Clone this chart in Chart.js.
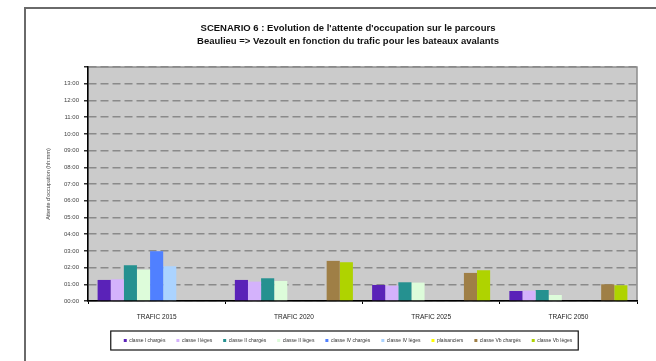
<!DOCTYPE html>
<html>
<head>
<meta charset="utf-8">
<script src="https://cdn.jsdelivr.net/npm/chart.js@4/dist/chart.umd.min.js"></script>
<style>
  html, body { margin: 0; padding: 0; background: #fff; }
  #wrap { width: 656px; height: 361px; }
</style>
</head>
<body>
<div id="wrap"><canvas id="chart" width="656" height="361"></canvas></div>
<script>
// === Data (hours) ===
const categories = ["TRAFIC 2015", "TRAFIC 2020", "TRAFIC 2025", "TRAFIC 2050"];
const yTicks = [0, 1, 2, 3, 4, 5, 6, 7, 8, 9, 10, 11, 12, 13];

const classeICharges = [1.26, 1.26, 0.96, 0.6];
const classeILeges = [1.3, 1.16, 0.92, 0.62];
const classeIICharges = [2.14, 1.36, 1.12, 0.66];
const classeIILeges = [1.88, 1.2, 1.1, 0.36];
const classeIVCharges = [2.98, null, null, null];
const classeIVLeges = [2.08, null, null, null];
const plaisanciers = [null, null, null, null];
const classeVbCharges = [null, 2.4, 1.68, 1.0];
const classeVbLeges = [null, 2.32, 1.84, 0.94];

const seriesNames = [
  "classe I chargés", "classe I lèges", "classe II chargés", "classe II lèges",
  "classe IV chargés", "classe IV lèges", "plaisanciers", "classe Vb chargés", "classe Vb lèges",
];
const seriesValues = [
  classeICharges, classeILeges, classeIICharges, classeIILeges,
  classeIVCharges, classeIVLeges, plaisanciers, classeVbCharges, classeVbLeges,
];
const seriesColors = [
  "#5a22b8", "#d4b2fc", "#259190", "#ddfcda",
  "#5080ff", "#abd3ff", "#ffff00", "#9f7f46", "#afd300",
];

const FONT = "'Liberation Sans', Arial, sans-serif";

// === Frame, plot background, legend box ===
const decor = {
  id: "decor",
  beforeDraw(chart) {
    const { ctx, chartArea: a } = chart;
    ctx.save();
    ctx.fillStyle = "#fff";
    ctx.fillRect(0, 0, chart.width, chart.height);
    ctx.strokeStyle = "#6a6a6a";
    ctx.lineWidth = 2;
    ctx.strokeRect(25, 8, 800, 500);
    ctx.fillStyle = "#cbcbcb";
    ctx.fillRect(a.left, a.top, a.right - a.left, a.bottom - a.top);
    ctx.strokeStyle = "#8c8c8c";
    ctx.lineWidth = 1.5;
    ctx.strokeRect(a.left, a.top, a.right - a.left, a.bottom - a.top);
    ctx.restore();
  },
  afterDraw(chart) {
    const boxes = chart.legend.legendHitBoxes;
    if (!boxes || !boxes.length) return;
    const { ctx } = chart;
    const x0 = Math.min(...boxes.map((b) => b.left)) - 13;
    const x1 = Math.max(...boxes.map((b) => b.left + b.width)) + 6;
    const y0 = Math.min(...boxes.map((b) => b.top)) - 7;
    const y1 = Math.max(...boxes.map((b) => b.top + b.height)) + 7;
    ctx.save();
    ctx.strokeStyle = "#111";
    ctx.lineWidth = 1.2;
    ctx.strokeRect(x0, y0, x1 - x0, y1 - y0);
    ctx.restore();
  },
};

new Chart(document.getElementById("chart"), {
  type: "bar",
  data: {
    labels: categories,
    datasets: seriesNames.map((name, i) => ({
      label: name,
      data: seriesValues[i],
      backgroundColor: seriesColors[i],
      borderWidth: 0,
      categoryPercentage: 0.86,
      barPercentage: 1,
    })),
  },
  options: {
    responsive: false,
    animation: false,
    layout: { padding: { left: 59, right: 19, top: 8, bottom: 8 } },
    plugins: {
      title: {
        display: true,
        text: [
          "SCENARIO 6 : Evolution de l'attente d'occupation sur le parcours",
          "Beaulieu => Vezoult en fonction du trafic pour les bateaux avalants",
        ],
        color: "#111",
        font: { family: FONT, size: 9.5, weight: "bold", lineHeight: 1.37 },
        padding: { top: 13.5, bottom: 19.5 },
      },
      legend: {
        position: "bottom",
        labels: {
          color: "#333",
          font: { family: FONT, size: 5 },
          boxWidth: 3,
          boxHeight: 3,
          padding: 11,
        },
      },
      tooltip: { enabled: false },
    },
    scales: {
      x: {
        grid: {
          display: true,
          drawOnChartArea: false,
          drawTicks: true,
          tickLength: 3,
          tickColor: "#000",
          offset: true,
        },
        border: { display: true, color: "#000", width: 1.5 },
        ticks: { color: "#222", font: { family: FONT, size: 6.5 }, padding: 9 },
        afterFit: (scale) => { scale.height = 26; },
      },
      y: {
        min: 0,
        max: 14,
        afterBuildTicks: (scale) => {
          scale.ticks = yTicks.concat([14]).map((v) => ({ value: v }));
        },
        ticks: {
          color: "#444",
          font: { family: FONT, size: 6 },
          padding: 5,
          callback: (v) => (v >= 14 ? "" : String(v).padStart(2, "0") + ":00"),
        },
        grid: {
          color: "#8a8a8a",
          lineWidth: 1.5,
          tickBorderDash: [],
          tickColor: "#333",
          tickLength: 4,
          drawTicks: true,
        },
        border: { display: true, color: "#000", width: 1.5, dash: [8, 4] },
        title: {
          display: true,
          text: "Attente d'occupation (hh:mm)",
          color: "#444",
          font: { family: FONT, size: 5.5 },
          padding: { top: -14, bottom: 0 },
        },
        afterFit: (scale) => { scale.width = 29; },
      },
    },
  },
  plugins: [decor],
});
</script>
</body>
</html>
